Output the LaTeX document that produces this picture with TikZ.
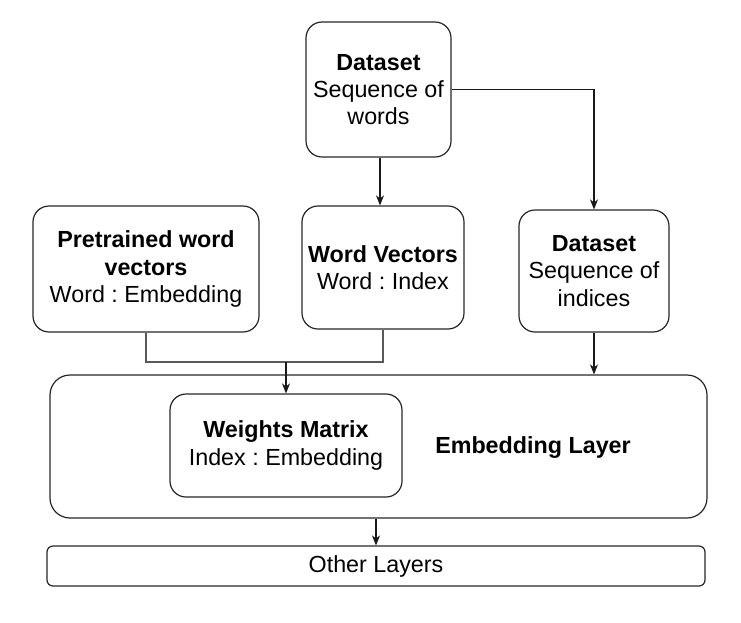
\documentclass[tikz,border=0pt]{standalone}
\usepackage{fontspec}
\setmainfont{Liberation Sans}
\usetikzlibrary{arrows.meta}
\frenchspacing
\begin{document}
\begin{tikzpicture}[x=1pt,y=-1pt,
  box/.style={draw=black!85,line width=1.2pt,rounded corners=16pt,align=center,inner sep=0pt,
    font=\fontsize{23.3}{27.3}\selectfont\frenchspacing},
  lbl/.style={align=center,inner sep=0pt,font=\fontsize{23.3}{27.3}\selectfont\frenchspacing},
  conn/.style={line width=1.2pt,draw=black!90},
  arr/.style={conn,-{Stealth[length=10pt,width=8pt,inset=3pt]}}]
\useasboundingbox (0,0) rectangle (741,622);
\node[box,minimum width=145pt,minimum height=135pt] (ds) at (378.5,89.5) {\textbf{Dataset}\\Sequence of\\words};
\node[box,minimum width=226pt,minimum height=126pt] (pw) at (146,269) {\textbf{Pretrained word}\\\textbf{vectors}\\Word : Embedding};
\node[box,minimum width=162pt,minimum height=123pt] (wv) at (383,267.5) {\textbf{Word Vectors}\\Word : Index};
\node[box,minimum width=150pt,minimum height=122pt] (di) at (594,271) {\textbf{Dataset}\\Sequence of\\indices};
\node[box,rounded corners=20pt,minimum width=657pt,minimum height=143pt] (el) at (378.5,446.5) {};
\node[box,minimum width=232pt,minimum height=103pt] (wm) at (286,445.5) {\textbf{Weights Matrix}\\Index : Embedding};
\node[lbl] (elt) at (533,448) {\textbf{Embedding Layer}};
\node[box,rounded corners=6pt,minimum width=658pt,minimum height=40pt] (ol) at (376,566) {Other Layers};
\coordinate (jn) at (286,362);
\draw[arr] (ds.south -| 380,0) -- (380,0 |- wv.north);
\draw[arr] (ds.east) -| (di.north);
\draw[conn,draw=black!65] (pw.south) |- (jn);
\draw[conn,draw=black!65] (wv.south) |- (jn);
\draw[arr] (jn) -- (wm.north);
\draw[arr] (di.south) -- (di.south |- el.north);
\draw[arr] (el.south -| ol.north) -- (ol.north);
\end{tikzpicture}
\end{document}
